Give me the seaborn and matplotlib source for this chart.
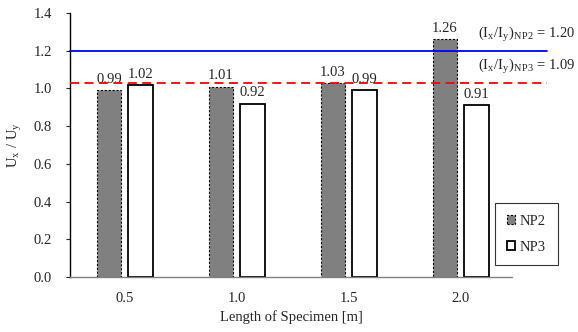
import matplotlib
matplotlib.use("Agg")
import matplotlib.pyplot as plt
import seaborn as sns
import pandas as pd
from matplotlib.patches import Patch

lengths = ["0.5", "1.0", "1.5", "2.0"]
np2 = [0.99, 1.01, 1.03, 1.26]
np3 = [1.02, 0.92, 0.99, 0.91]
series = ["NP2", "NP3"]
ref_np2 = 1.20
ref_np3_line = 1.03
ref_np3_label = "1.09"

df = pd.DataFrame({
    "Length": lengths * 2,
    "Ratio": np2 + np3,
    "Series": ["NP2"] * len(lengths) + ["NP3"] * len(lengths),
})

sns.set_style("white")
plt.rcParams["font.family"] = ["Liberation Serif", "DejaVu Serif"]
plt.rcParams["font.size"] = 10.5
plt.rcParams["mathtext.fontset"] = "stix"
FS = 10.5

fig = plt.figure(figsize=(5.78, 3.32), dpi=100)
ax = fig.add_axes([0.121, 0.1657, 0.765, 0.795])

sns.barplot(data=df, x="Length", y="Ratio", hue="Series", order=lengths,
            hue_order=series, width=0.56, gap=0.21, ax=ax, legend=False,
            palette=["#808080", "white"], saturation=1, errorbar=None)

n = len(lengths)
for i, p in enumerate(ax.patches[:2 * n]):
    if i < n:
        p.set_facecolor("#808080")
        p.set_edgecolor("black")
        p.set_linestyle((0, (2, 1.5)))
        p.set_linewidth(0.8)
    else:
        p.set_facecolor("white")
        p.set_edgecolor("black")
        p.set_linewidth(1.3)
    h = p.get_height()
    ax.annotate(f"{h:.2f}", (p.get_x() + p.get_width() / 2, h),
                xytext=(0, 3), textcoords="offset points",
                ha="center", va="bottom", fontsize=FS)

ax.set_xlim(-0.49, 3.46)
ax.set_ylim(0, 1.4)
yt = [0, 0.2, 0.4, 0.6, 0.8, 1.0, 1.2, 1.4]
ax.set_yticks(yt)
ax.set_yticklabels([f"{v:.1f}" for v in yt])

ax.axhline(ref_np2, xmin=0, xmax=1.079, color="#0000ff", lw=1.3, clip_on=False, zorder=5)
ax.axhline(ref_np3_line, xmin=0, xmax=1.079, color="#ff0000", lw=1.3,
           ls=(0, (5, 3)), clip_on=False, zorder=5)

ax.text(1.143, ref_np2 + 0.035, r"(I$_\mathregular{x}$/I$_\mathregular{y}$)$_\mathregular{NP2}$ = " + f"{ref_np2:.2f}",
        transform=ax.get_yaxis_transform(), ha="right", va="bottom", fontsize=FS)
ax.text(1.143, ref_np3_line + 0.035, r"(I$_\mathregular{x}$/I$_\mathregular{y}$)$_\mathregular{NP3}$ = " + ref_np3_label,
        transform=ax.get_yaxis_transform(), ha="right", va="bottom", fontsize=FS)

for s in ["top", "right"]:
    ax.spines[s].set_visible(False)
ax.spines["left"].set_color("black")
ax.spines["left"].set_linewidth(1.0)
ax.spines["bottom"].set_color("#808080")
ax.spines["bottom"].set_linewidth(1.0)

ax.tick_params(axis="y", which="both", left=True, direction="out", length=3, width=0.8,
               labelsize=FS, pad=10)
ax.tick_params(axis="x", bottom=False, labelsize=FS, pad=7)

ax.set_xlabel("Length of Specimen [m]", fontsize=FS, labelpad=4)
ax.set_ylabel(r"U$_\mathregular{x}$ / U$_\mathregular{y}$", fontsize=FS, labelpad=7)

handles = [
    Patch(facecolor="#808080", edgecolor="black", linestyle=(0, (2, 1.5)), linewidth=0.8, label="NP2"),
    Patch(facecolor="white", edgecolor="black", linewidth=1.3, label="NP3"),
]
leg = fig.legend(handles=handles, loc="upper left", bbox_to_anchor=(495 / 578, 1 - 203 / 332),
                 frameon=True, fancybox=False, edgecolor="black", fontsize=FS,
                 handlelength=0.6, handleheight=0.6, handletextpad=0.3,
                 labelspacing=0.9, borderpad=0.8, borderaxespad=0)
leg.get_frame().set_linewidth(0.8)

fig.savefig("out.png", dpi=100)
